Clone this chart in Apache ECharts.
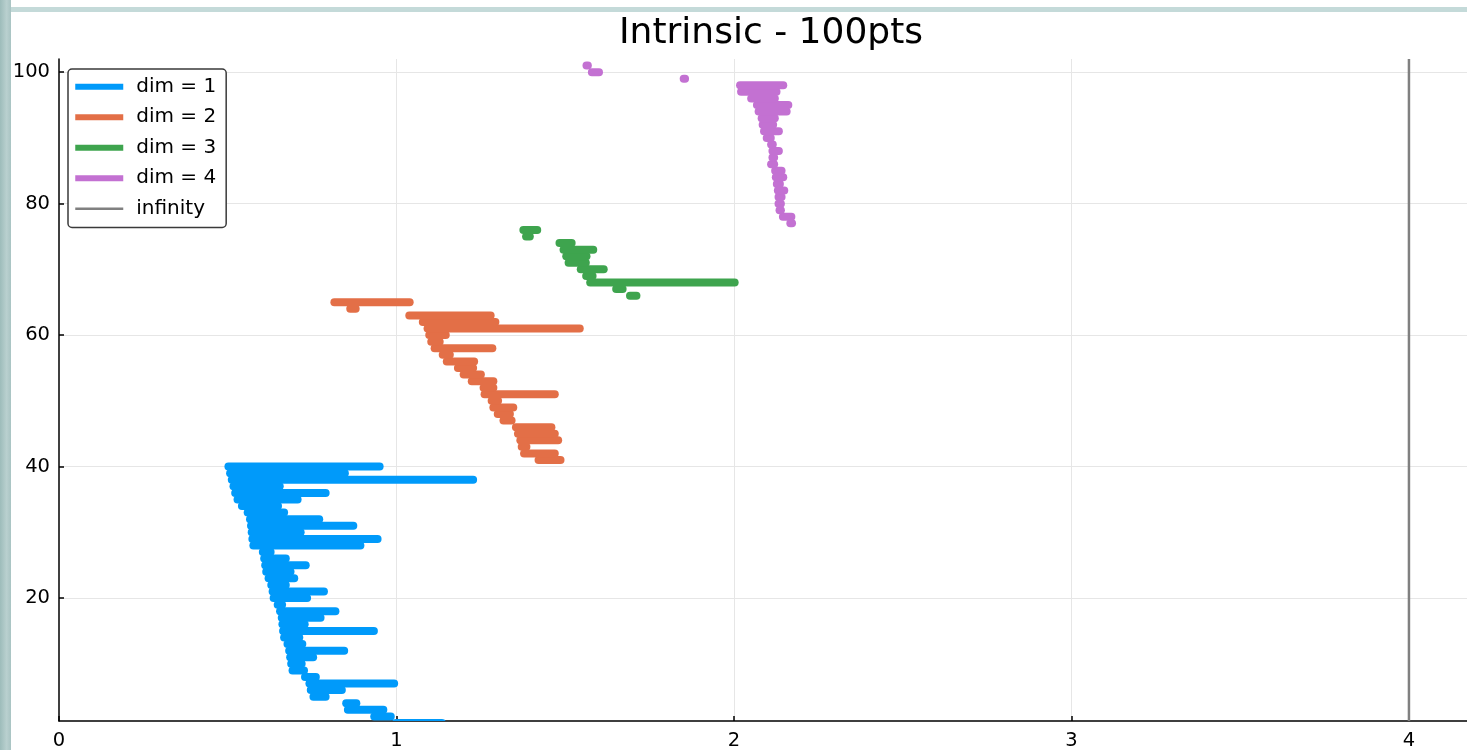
<!DOCTYPE html>
<html>
<head>
<meta charset="utf-8">
<title>Intrinsic - 100pts</title>
<script src="https://cdn.jsdelivr.net/npm/echarts@6/dist/echarts.min.js"></script>
<style>
  html, body { margin: 0; padding: 0; background: #fff; }
  #chart { position: absolute; left: 0; top: 0; width: 1467px; height: 750px; }
  .edge-top { position: absolute; left: 0; top: 7px; width: 1467px; height: 5px; background: #c4dad9; }
  .edge-left { position: absolute; left: 0; top: 0; width: 11px; height: 750px;
    background: linear-gradient(90deg, #9dbcba, #b9d0cf 60%, #a9c4c3); }
</style>
</head>
<body>
<div id="chart"></div>
<div class="edge-top"></div>
<div class="edge-left"></div>
<script>
// Persistence barcode: each entry is [birth, death]; bars are stacked one per row.
const dim1 = [
  [0.998, 1.135], [0.934, 0.983], [0.856, 0.961], [0.851, 0.881], [0.754, 0.790],
  [0.746, 0.838], [0.742, 0.993], [0.729, 0.761], [0.692, 0.726], [0.688, 0.719],
  [0.685, 0.753], [0.682, 0.845], [0.677, 0.721], [0.667, 0.712], [0.664, 0.933],
  [0.662, 0.728], [0.660, 0.775], [0.655, 0.819], [0.648, 0.661], [0.636, 0.735],
  [0.633, 0.785], [0.629, 0.672], [0.621, 0.697], [0.614, 0.686], [0.611, 0.731],
  [0.608, 0.672], [0.604, 0.627], [0.576, 0.893], [0.573, 0.944], [0.571, 0.716],
  [0.569, 0.872], [0.566, 0.771], [0.559, 0.667], [0.542, 0.649], [0.529, 0.707],
  [0.522, 0.790], [0.517, 0.654], [0.512, 1.227], [0.507, 0.847], [0.502, 0.950]
];
const dim2 = [
  [1.421, 1.486], [1.378, 1.469], [1.371, 1.385], [1.367, 1.479], [1.360, 1.469],
  [1.354, 1.459], [1.317, 1.341], [1.300, 1.336], [1.287, 1.346], [1.282, 1.301],
  [1.261, 1.469], [1.258, 1.287], [1.223, 1.287], [1.199, 1.250], [1.182, 1.227],
  [1.149, 1.230], [1.137, 1.158], [1.113, 1.284], [1.103, 1.128], [1.097, 1.146],
  [1.092, 1.543], [1.078, 1.293], [1.038, 1.279], [0.863, 0.879], [0.816, 1.039]
];
const dim3 = [
  [1.692, 1.711], [1.651, 1.670], [1.574, 2.002], [1.562, 1.581], [1.546, 1.614],
  [1.510, 1.561], [1.503, 1.563], [1.495, 1.583], [1.483, 1.519], [1.384, 1.395],
  [1.376, 1.417]
];
const dim4 = [
  [2.167, 2.172], [2.145, 2.170], [2.135, 2.139], [2.132, 2.139], [2.132, 2.141],
  [2.130, 2.149], [2.127, 2.136], [2.124, 2.146], [2.122, 2.141], [2.110, 2.119],
  [2.114, 2.119], [2.114, 2.133], [2.110, 2.115], [2.097, 2.109], [2.089, 2.133],
  [2.085, 2.116], [2.082, 2.121], [2.073, 2.156], [2.068, 2.161], [2.051, 2.121],
  [2.021, 2.126], [2.018, 2.146], [1.851, 1.855], [1.579, 1.600], [1.563, 1.567]
];
const infinityX = 4;

const seriesNames = ['dim = 1', 'dim = 2', 'dim = 3', 'dim = 4'];
const seriesColors = ['#009AFA', '#E36F47', '#3EA44E', '#C371D2'];
const infinityColor = '#808080';

const xMin = 0, xMax = 4.172, xStep = 1;
const yMin = 1.3, yMax = 102;
const FONT = 'DejaVu Sans';

function barSeries(name, pairs, firstRow, color) {
  return {
    name: name,
    type: 'custom',
    clip: true,
    itemStyle: { color: color },
    encode: { x: [0, 1], y: 2 },
    data: pairs.map((p, i) => [p[0], p[1], firstRow + i]),
    renderItem: function (params, api) {
      const a = api.coord([api.value(0), api.value(2)]);
      const b = api.coord([api.value(1), api.value(2)]);
      return {
        type: 'line',
        shape: { x1: a[0], y1: a[1], x2: b[0], y2: b[1] },
        style: { stroke: color, lineWidth: 8, lineCap: 'round' }
      };
    }
  };
}

const groups = [dim1, dim2, dim3, dim4];
const series = [];
let row = 1;
groups.forEach((g, k) => {
  series.push(barSeries(seriesNames[k], g, row, seriesColors[k]));
  row += g.length;
});
series.push({
  name: 'infinity',
  type: 'custom',
  itemStyle: { color: infinityColor },
  encode: { x: 0, y: 1 },
  data: [[infinityX, yMax]],
  renderItem: function (params, api) {
    const cs = params.coordSys;
    const x = api.coord([api.value(0), yMin])[0];
    return {
      type: 'line',
      shape: { x1: x, y1: cs.y, x2: x, y2: cs.y + cs.height },
      style: { stroke: infinityColor, lineWidth: 2.5 }
    };
  }
});

const chart = echarts.init(document.getElementById('chart'), null, { renderer: 'canvas' });
chart.setOption({
  backgroundColor: '#fff',
  animation: false,
  title: {
    text: 'Intrinsic - 100pts',
    left: 619, top: 16, padding: 0,
    textStyle: { fontFamily: FONT, fontSize: 36, fontWeight: 'normal', color: '#000' }
  },
  legend: {
    orient: 'vertical',
    left: 68, top: 69,
    backgroundColor: '#fff',
    borderColor: '#3a3a3a', borderWidth: 1.5, borderRadius: 4,
    padding: [7, 10, 8, 6],
    itemWidth: 48, itemHeight: 6, itemGap: 9,
    selectedMode: false,
    textStyle: { fontFamily: FONT, fontSize: 20, color: '#000', lineHeight: 21.5, padding: [0, 0, 0, 8] },
    data: [
      { name: seriesNames[0], icon: 'rect' },
      { name: seriesNames[1], icon: 'rect' },
      { name: seriesNames[2], icon: 'rect' },
      { name: seriesNames[3], icon: 'rect' },
      { name: 'infinity', icon: 'line', itemStyle: { borderWidth: 2.5, borderColor: infinityColor } }
    ]
  },
  grid: { left: 59, top: 59, right: 0, bottom: 29, containLabel: false, outerBoundsMode: 'none' },
  xAxis: {
    type: 'value', min: xMin, max: xMax, interval: xStep,
    axisLine: { show: true, lineStyle: { color: '#000', width: 1.5 } },
    axisTick: { show: true, inside: true, length: 5, lineStyle: { color: '#000', width: 1.5 } },
    axisLabel: { fontFamily: FONT, fontSize: 19.5, color: '#000', margin: 10, showMaxLabel: false },
    splitLine: { show: true, showMinLine: false, showMaxLine: false, lineStyle: { color: '#e6e6e6', width: 1 } }
  },
  yAxis: {
    type: 'value', min: yMin, max: yMax, splitNumber: 5,
    axisLine: { show: true, lineStyle: { color: '#000', width: 1.5 } },
    axisTick: { show: true, inside: true, length: 5, lineStyle: { color: '#000', width: 1.5 } },
    axisLabel: { fontFamily: FONT, fontSize: 19.5, color: '#000', margin: 9, showMinLabel: false, showMaxLabel: false },
    splitLine: { show: true, showMinLine: false, showMaxLine: false, lineStyle: { color: '#e6e6e6', width: 1 } }
  },
  series: series
});
</script>
</body>
</html>
